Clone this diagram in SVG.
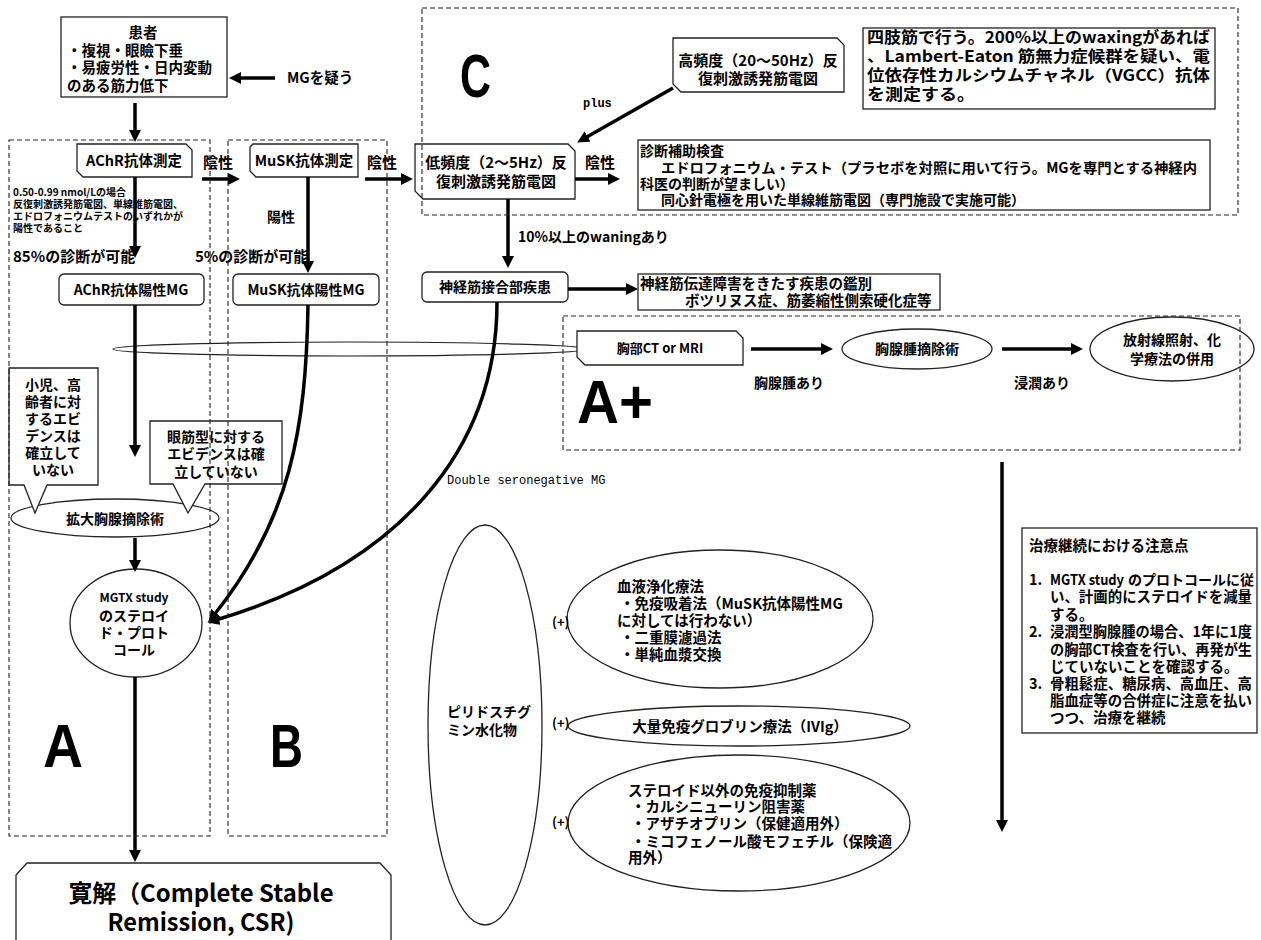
<svg xmlns="http://www.w3.org/2000/svg" width="1261" height="940" viewBox="0 0 1261 940">
<style>
.j{font-family:'Noto Sans CJK JP','Noto Sans',sans-serif;font-weight:700;fill:#000}
.m{text-anchor:middle}
.f10{font-size:10px}.f12{font-size:12px}.f13{font-size:13px}.f14{font-size:14px}.f145{font-size:14.5px}.f15{font-size:15px}.f16{font-size:15.5px}.f25{font-size:24px}
.big{font-family:'Liberation Sans',Arial,sans-serif;font-weight:700;font-size:62px;fill:#000}
.mono{font-family:'Liberation Mono','Noto Sans CJK JP',monospace;fill:#000}
.box{fill:#fff;stroke:#222;stroke-width:1.3}
.ol{fill:none;stroke:#222;stroke-width:1.2}
.dash{fill:none;stroke:#222;stroke-width:1.1;stroke-dasharray:5 3}
.arr{fill:none;stroke:#000;stroke-width:3.5;marker-end:url(#ah)}
</style>
<defs>
<marker id="ah" viewBox="0 0 12 12" refX="3" refY="6" markerWidth="12" markerHeight="12" markerUnits="userSpaceOnUse" orient="auto">
<path d="M0,0 L12,6 L0,12 Z" fill="#000"/>
</marker>
</defs>
<rect width="1261" height="940" fill="#fff"/>

<g id="thin-ellipse"><ellipse cx="350" cy="349" rx="237" ry="7" class="ol"/></g>

<g id="patient">
<rect x="61" y="17" width="166" height="80" class="box"/>
<text x="143" y="38" class="j f145 m">患者</text>
<text x="67" y="56" class="j f145">・複視・眼瞼下垂</text>
<text x="67" y="73" class="j f145">・易疲労性・日内変動</text>
<text x="67" y="91" class="j f145">のある筋力低下</text>
</g>
<g id="mg-suspect"><text x="287" y="83" class="j f145">MGを疑う</text></g>

<g id="achr-test">
<path d="M77,144 H186 L192,150 V177 H83 L77,171 Z" class="box"/>
<text x="134" y="166" class="j f145 m">AChR抗体測定</text>
</g>
<g id="musk-test">
<path d="M253,144 H358 V177 H256 L250,171 V147 Z" class="box"/>
<text x="304" y="166" class="j f145 m">MuSK抗体測定</text>
</g>
<g id="low-freq">
<path d="M415,144 H568 L575,151 V199 H423 L415,191 Z" class="box"/>
<text x="496" y="168" class="j f15 m">低頻度（2〜5Hz）反</text>
<text x="496" y="187" class="j f15 m">復刺激誘発筋電図</text>
</g>
<g id="high-freq">
<path d="M673,38 H837 L844,45 V92 H681 L673,84 Z" class="box"/>
<text x="758" y="66" class="j f15 m">高頻度（20〜50Hz）反</text>
<text x="758" y="84" class="j f15 m">復刺激誘発筋電図</text>
</g>
<g id="note-lems">
<rect x="863" y="28" width="352" height="81" class="box"/>
<text x="867" y="43" class="j f16" textLength="343" lengthAdjust="spacingAndGlyphs">四肢筋で行う。200%以上のwaxingがあれば</text>
<text x="867" y="62" class="j f16" textLength="343" lengthAdjust="spacingAndGlyphs">、Lambert-Eaton 筋無力症候群を疑い、電</text>
<text x="867" y="81" class="j f16" textLength="343" lengthAdjust="spacingAndGlyphs">位依存性カルシウムチャネル（VGCC）抗体</text>
<text x="867" y="100" class="j f16" textLength="108" lengthAdjust="spacingAndGlyphs">を測定する。</text>
</g>
<g id="diag-aux">
<rect x="638" y="140" width="572" height="70" class="box"/>
<text x="640" y="156" class="j f14">診断補助検査</text>
<text x="661" y="173" class="j f14" textLength="536" lengthAdjust="spacingAndGlyphs">エドロフォニウム・テスト（プラセボを対照に用いて行う。MGを専門とする神経内</text>
<text x="640" y="189" class="j f14">科医の判断が望ましい）</text>
<text x="661" y="205" class="j f14">同心針電極を用いた単線維筋電図（専門施設で実施可能）</text>
</g>
<g id="nmj">
<rect x="422" y="272" width="146" height="30" rx="5" class="box"/>
<text x="495" y="292" class="j f14 m">神経筋接合部疾患</text>
</g>
<g id="differential">
<rect x="638" y="274" width="302" height="36" class="box"/>
<text x="640" y="289" class="j f145">神経筋伝達障害をきたす疾患の鑑別</text>
<text x="685" y="306" class="j f145">ボツリヌス症、筋萎縮性側索硬化症等</text>
</g>
<g id="achr-pos">
<rect x="59" y="274" width="145" height="31" rx="5" class="box"/>
<text x="131" y="295" class="j f14 m">AChR抗体陽性MG</text>
</g>
<g id="musk-pos">
<rect x="233" y="274" width="146" height="31" rx="5" class="box"/>
<text x="306" y="295" class="j f14 m">MuSK抗体陽性MG</text>
</g>
<g id="achr-notes">
<text x="13" y="196" class="j f10">0.50-0.99 nmol/Lの場合</text>
<text x="13" y="208" class="j f10">反復刺激誘発筋電図、単線維筋電図、</text>
<text x="13" y="220" class="j f10">エドロフォニウムテストのいずれかが</text>
<text x="13" y="232" class="j f10">陽性であること</text>
<text x="13" y="262" class="j f15">85%の診断が可能</text>
<text x="195" y="262" class="j f15">5%の診断が可能</text>
</g>

<g id="thymectomy">
<ellipse cx="115" cy="518" rx="104" ry="19" class="box"/>
<text x="115" y="524" class="j f14 m">拡大胸腺摘除術</text>
</g>
<g id="callout-child">
<path d="M9,368 H98 V485 H47 L35,513 L24,485 H9 Z" class="box"/>
<text x="53" y="390" class="j f14 m">小児、高</text>
<text x="53" y="407" class="j f14 m">齢者に対</text>
<text x="53" y="424" class="j f14 m">するエビ</text>
<text x="53" y="441" class="j f14 m">デンスは</text>
<text x="53" y="458" class="j f14 m">確立して</text>
<text x="53" y="475" class="j f14 m">いない</text>
</g>
<g id="callout-ocular">
<path d="M150,421 H282 V484 H205 L188,513 L173,484 H150 Z" class="box"/>
<text x="216" y="442" class="j f14 m">眼筋型に対する</text>
<text x="216" y="459" class="j f14 m">エビデンスは確</text>
<text x="216" y="477" class="j f14 m">立していない</text>
</g>
<g id="mgtx">
<ellipse cx="136" cy="623" rx="66" ry="54" class="box"/>
<text x="134" y="602" class="j f12 m">MGTX study</text>
<text x="134" y="621" class="j f14 m">のステロイ</text>
<text x="134" y="638" class="j f14 m">ド・プロト</text>
<text x="134" y="655" class="j f14 m">コール</text>
</g>
<g id="csr">
<path d="M27,863 H380 L391,875 V946 H16 V875 Z" class="box"/>
<text x="201" y="902" class="j f25 m" textLength="265" lengthAdjust="spacingAndGlyphs">寛解（Complete Stable</text>
<text x="201" y="931" class="j f25 m" textLength="187" lengthAdjust="spacingAndGlyphs">Remission, CSR)</text>
</g>

<g id="chest-ct">
<path d="M577,331 H736 L743,338 V365 H585 L577,357 Z" class="box"/>
<text x="660" y="353" class="j f13 m">胸部CT or MRI</text>
</g>
<g id="thymoma-resection">
<ellipse cx="917" cy="349" rx="75" ry="20" class="box"/>
<text x="917" y="354" class="j f14 m">胸腺腫摘除術</text>
</g>
<g id="radio-chemo">
<ellipse cx="1172" cy="349" rx="82" ry="32" class="box"/>
<text x="1172" y="345" class="j f14 m">放射線照射、化</text>
<text x="1172" y="364" class="j f14 m">学療法の併用</text>
</g>

<g id="pyridostigmine">
<ellipse cx="485" cy="725" rx="57" ry="200" class="box"/>
<text x="447" y="717" class="j f14">ピリドスチグ</text>
<text x="447" y="735" class="j f14">ミン水化物</text>
</g>
<g id="plasma">
<ellipse cx="720" cy="619" rx="153" ry="69" class="box"/>
<text x="617" y="592" class="j f145">血液浄化療法</text>
<text x="620" y="609" class="j f145">・免疫吸着法（MuSK抗体陽性MG</text>
<text x="617" y="626" class="j f145">に対しては行わない）</text>
<text x="620" y="643" class="j f145">・二重膜濾過法</text>
<text x="620" y="660" class="j f145">・単純血漿交換</text>
</g>
<g id="ivig">
<ellipse cx="739" cy="726" rx="171" ry="20" class="box"/>
<text x="740" y="732" class="j f145 m">大量免疫グロブリン療法（IVIg）</text>
</g>
<g id="immunosuppressants">
<ellipse cx="739" cy="823" rx="171" ry="68" class="box"/>
<text x="628" y="796" class="j f145">ステロイド以外の免疫抑制薬</text>
<text x="631" y="812" class="j f145">・カルシニューリン阻害薬</text>
<text x="631" y="829" class="j f145">・アザチオプリン（保健適用外）</text>
<text x="631" y="847" class="j f145">・ミコフェノール酸モフェチル（保険適</text>
<text x="628" y="863" class="j f145">用外）</text>
</g>
<g id="plus-labels">
<text x="552" y="627" class="j f13">(+)</text>
<text x="552" y="728" class="j f13">(+)</text>
<text x="552" y="827" class="j f13">(+)</text>
</g>

<g id="notes">
<rect x="1022" y="528" width="235" height="205" class="box"/>
<text x="1029" y="551" class="j f145">治療継続における注意点</text>
<text x="1029" y="585" class="j f145">1.</text>
<text x="1050" y="585" class="j f145" textLength="74" lengthAdjust="spacingAndGlyphs">MGTX study</text>
<text x="1128" y="585" class="j f14">のプロトコールに従</text>
<text x="1050" y="602" class="j f145" textLength="202" lengthAdjust="spacingAndGlyphs">い、計画的にステロイドを減量</text>
<text x="1050" y="620" class="j f145">する。</text>
<text x="1029" y="637" class="j f145">2.</text>
<text x="1050" y="637" class="j f145" textLength="202" lengthAdjust="spacingAndGlyphs">浸潤型胸腺腫の場合、1年に1度</text>
<text x="1050" y="655" class="j f145" textLength="202" lengthAdjust="spacingAndGlyphs">の胸部CT検査を行い、再発が生</text>
<text x="1050" y="672" class="j f145">じていないことを確認する。</text>
<text x="1029" y="689" class="j f145">3.</text>
<text x="1050" y="689" class="j f145" textLength="202" lengthAdjust="spacingAndGlyphs">骨粗鬆症、糖尿病、高血圧、高</text>
<text x="1050" y="706" class="j f145" textLength="202" lengthAdjust="spacingAndGlyphs">脂血症等の合併症に注意を払い</text>
<text x="1050" y="723" class="j f145">つつ、治療を継続</text>
</g>

<g id="region-labels">
<text x="460" y="97" class="big" textLength="31" lengthAdjust="spacingAndGlyphs">C</text>
<text x="577" y="423" class="big" font-size="60" textLength="76" lengthAdjust="spacingAndGlyphs">A+</text>
<text x="43" y="767" class="big" textLength="40" lengthAdjust="spacingAndGlyphs">A</text>
<text x="270" y="767" class="big" textLength="33" lengthAdjust="spacingAndGlyphs">B</text>
</g>

<g id="connectors">
<line x1="275" y1="78" x2="238" y2="78" class="arr"/>
<line x1="135" y1="103" x2="135" y2="133" class="arr"/>
<line x1="202" y1="179" x2="231" y2="179" class="arr"/>
<line x1="365" y1="179" x2="404" y2="179" class="arr"/>
<line x1="575" y1="179" x2="611" y2="179" class="arr"/>
<line x1="673" y1="88" x2="585" y2="138" class="arr"/>
<line x1="508" y1="199" x2="508" y2="259" class="arr"/>
<line x1="568" y1="289" x2="629" y2="289" class="arr"/>
<line x1="135" y1="177" x2="135" y2="249" class="arr"/>
<line x1="308" y1="177" x2="308" y2="264" class="arr"/>
<line x1="135" y1="305" x2="135" y2="448" class="arr"/>
<line x1="135" y1="538" x2="135" y2="563" class="arr"/>
<line x1="135" y1="677" x2="135" y2="853" class="arr"/>
<path d="M308,305 C306,430 290,520 214,615" class="arr"/>
<path d="M497,302 C497,450 400,565 216,620" class="arr"/>
<line x1="751" y1="349" x2="824" y2="349" class="arr"/>
<line x1="1002" y1="349" x2="1074" y2="349" class="arr"/>
<line x1="1002" y1="462" x2="1002" y2="823" class="arr"/>
<text x="203" y="168" class="j f15">陰性</text>
<text x="367" y="168" class="j f15">陰性</text>
<text x="585" y="168" class="j f15">陰性</text>
<text x="267" y="222" class="j f14">陽性</text>
<text x="583" y="107" class="mono f12" font-weight="700">plus</text>
<text x="518" y="242" class="j f14">10%以上のwaningあり</text>
<text x="447" y="484" class="mono f12">Double seronegative MG</text>
<text x="754" y="388" class="j f14">胸腺腫あり</text>
<text x="1014" y="388" class="j f14">浸潤あり</text>
</g>

<g id="regions">
<rect x="9" y="140" width="201" height="696" class="dash"/>
<rect x="228" y="140" width="159" height="696" class="dash"/>
<rect x="422" y="8" width="816" height="207" class="dash"/>
<rect x="563" y="316" width="677" height="134" class="dash"/>
</g>
</svg>
